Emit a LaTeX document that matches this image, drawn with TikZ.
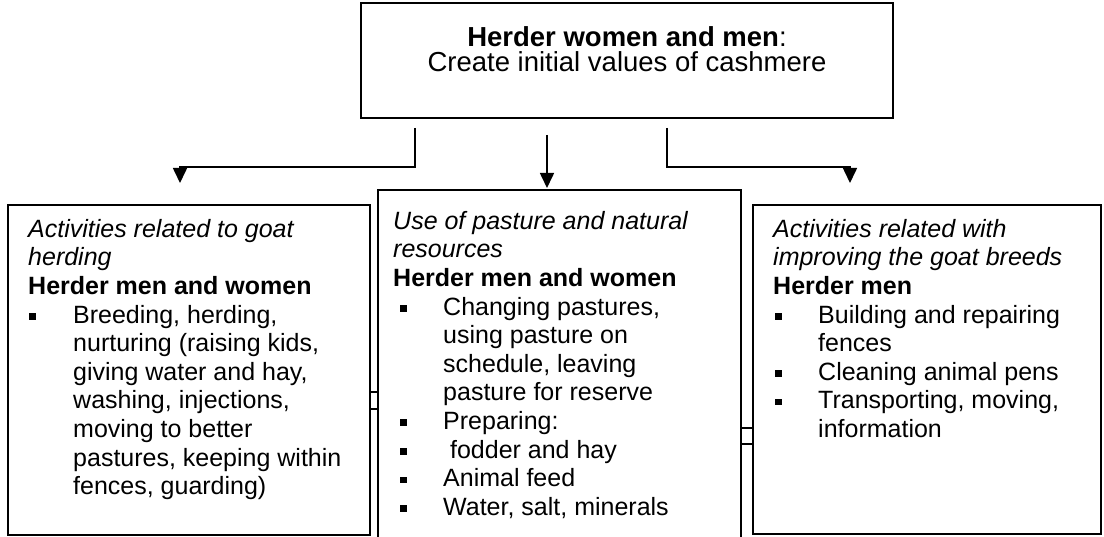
\documentclass[tikz,border=0pt]{standalone}
\usepackage{fontspec}
\setmainfont{Liberation Sans}
\usetikzlibrary{arrows.meta}
% square bullet: #1 = offset of the square, #2 = hanging indent
\newcommand{\sqbul}[2]{\makebox[#2pt][l]{\hspace{#1pt}\rule[3.5pt]{6.5pt}{6.5pt}}}
\newcommand{\hang}[1]{\hspace*{#1pt}}
\newcommand{\firstline}{\rule{0pt}{20pt}}

\begin{document}
\begin{tikzpicture}[x=1pt,y=-1pt,
  box/.style={draw, line width=1.8pt, inner sep=0pt},
  txt/.style={anchor=north west, inner sep=0pt, align=left,
    font=\fontsize{25}{28.6}\selectfont},
  link/.style={line width=1.6pt},
  arr/.style={link, -{Triangle[width=14pt,length=15pt]}}]
\useasboundingbox (0,0) rectangle (1104,537);
\clip (0,0) rectangle (1104,537);

% boxes
\node[box, minimum width=532pt, minimum height=115pt] (top) at (627,60.5) {};
\node[box, minimum width=362pt, minimum height=330pt] (left) at (189,370) {};
\node[box, minimum width=363pt, minimum height=370pt] (mid) at (559.5,375) {};
\node[box, minimum width=348pt, minimum height=329pt] (right) at (927,369.5) {};

% heading
\node[anchor=north, inner sep=0pt, align=center,
  font=\fontsize{27.5}{25.5}\selectfont] (head) at (627,26)
  {\firstline\textbf{Herder women and men}:\\ Create initial values of cashmere};

% branch points of the connectors
\coordinate (ls) at (415,128);
\coordinate (lk) at (180,167);
\coordinate (le) at (180,183);
\coordinate (ms) at (547,135);
\coordinate (me) at (547,188);
\coordinate (rs) at (667,128);
\coordinate (rk) at (850,167);
\coordinate (re) at (850,183);

\draw[arr] (ls) |- (lk) -- (le);
\draw[arr] (ms) -- (me);
\draw[arr] (rs) |- (rk) -- (re);

% short ties between neighbouring boxes
\draw[link] (left.east |- 0,392) -- (mid.west |- 0,392);
\draw[link] (left.east |- 0,409) -- (mid.west |- 0,409);
\draw[link] (mid.east |- 0,428) -- (right.west |- 0,428);
\draw[link] (mid.east |- 0,444) -- (right.west |- 0,444);

% box texts
\node[txt] (lt) at (28,217) {\firstline\textit{Activities related to goat}\\
  \textit{herding}\\
  \textbf{Herder men and women}\\
  \sqbul{1}{45}Breeding, herding,\\
  \hang{45}nurturing (raising kids,\\
  \hang{45}giving water and hay,\\
  \hang{45}washing, injections,\\
  \hang{45}moving to better\\
  \hang{45}pastures, keeping within\\
  \hang{45}fences, guarding)};

\node[txt] (mtx) at (393,209) {\firstline\textit{Use of pasture and natural}\\
  \textit{resources}\\
  \textbf{Herder men and women}\\
  \sqbul{7}{50}Changing pastures,\\
  \hang{50}using pasture on\\
  \hang{50}schedule, leaving\\
  \hang{50}pasture for reserve\\
  \sqbul{7}{50}Preparing:\\
  \sqbul{7}{50}\ fodder and hay\\
  \sqbul{7}{50}Animal feed\\
  \sqbul{7}{50}Water, salt, minerals};

\node[txt] (rt) at (773,217) {\firstline\textit{Activities related with}\\
  \textit{improving the goat breeds}\\
  \textbf{Herder men}\\
  \sqbul{2}{45}Building and repairing\\
  \hang{45}fences\\
  \sqbul{2}{45}Cleaning animal pens\\
  \sqbul{2}{45}Transporting, moving,\\
  \hang{45}information};
\end{tikzpicture}
\end{document}
